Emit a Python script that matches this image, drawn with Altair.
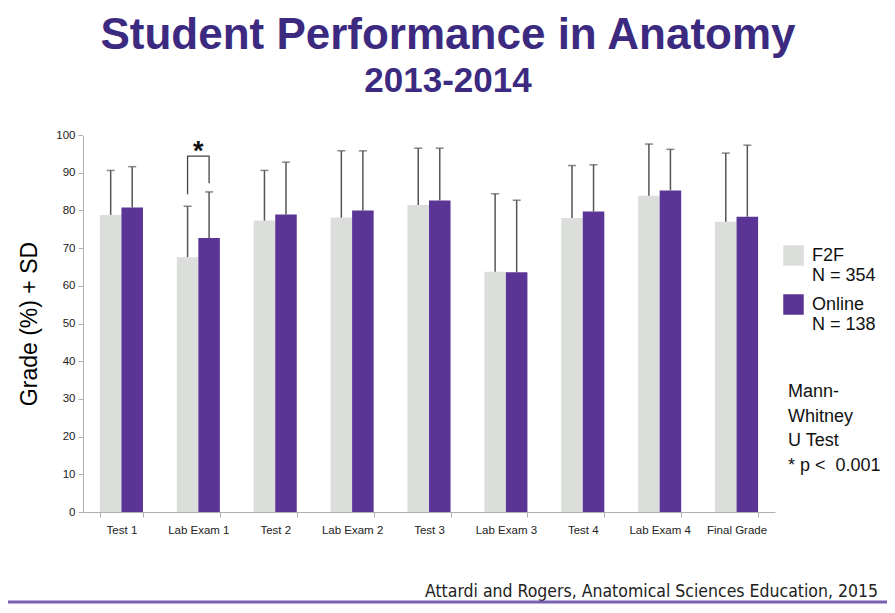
import altair as alt
import pandas as pd

categories = ["Test 1", "Lab Exam 1", "Test 2", "Lab Exam 2", "Test 3",
              "Lab Exam 3", "Test 4", "Lab Exam 4", "Final Grade"]
groups = ["F2F", "Online"]
group_n = [354, 138]
f2f_mean = [78.8, 67.6, 77.3, 78.1, 81.4, 63.7, 78.0, 83.9, 77.0]
f2f_upper = [90.6, 81.1, 90.6, 95.8, 96.5, 84.4, 91.9, 97.6, 95.2]
online_mean = [80.8, 72.7, 78.9, 80.0, 82.6, 63.6, 79.7, 85.3, 78.3]
online_upper = [91.6, 84.9, 92.8, 95.8, 96.5, 82.7, 92.1, 96.2, 97.3]
y_ticks = list(range(0, 101, 10))
y_max = 100

bracket_category = "Lab Exam 1"
bracket_groups = ["F2F", "F2F", "Online", "Online"]
bracket_y = [84.3, 94.4, 94.4, 87.2]
star_y = 95.6

note_lines = ["Mann-", "Whitney", "U Test", "* p <\u00a0 0.001"]
citation = "Attardi and Rogers, Anatomical Sciences Education, 2015"

rows = []
for i, c in enumerate(categories):
    rows.append({"category": c, "group": "F2F", "mean": f2f_mean[i], "upper": f2f_upper[i]})
    rows.append({"category": c, "group": "Online", "mean": online_mean[i], "upper": online_upper[i]})
df = pd.DataFrame(rows)

bracket_df = pd.DataFrame({
    "category": [bracket_category] * len(bracket_groups),
    "group": bracket_groups,
    "y": bracket_y,
    "seq": list(range(len(bracket_groups))),
})
star_df = pd.DataFrame({"category": [bracket_category], "y": [star_y], "t": ["*"]})
top_df = pd.DataFrame({"v": [y_max]})

FONT = "Liberation Sans"
PURPLE = "#5b3596"
GRAY = "#dcdedb"
AXIS_C = "#b0b0b0"
W, H = 692, 377

x_enc = alt.X("category:N", sort=categories,
              scale=alt.Scale(paddingInner=0.44, paddingOuter=0.22),
              axis=alt.Axis(title=None, labelAngle=0, tickBand="extent",
                            labelFontSize=11.5, labelColor="#222", labelFont=FONT,
                            domainColor=AXIS_C, tickColor=AXIS_C, tickSize=5,
                            labelPadding=7, grid=False))
xoff = alt.XOffset("group:N", sort=groups, scale=alt.Scale(paddingInner=0, paddingOuter=0))
y_scale = alt.Scale(domain=[0, y_max])
y_axis = alt.Axis(values=y_ticks, title="Grade (%) + SD",
                  titleFontSize=23, titleFontWeight="normal", titleColor="#000",
                  titleFont=FONT, titlePadding=14,
                  labelFontSize=11.5, labelColor="#222", labelFont=FONT,
                  domainColor=AXIS_C, tickColor=AXIS_C, tickSize=5,
                  labelPadding=3, grid=False)

label_expr = " : ".join(
    [f"datum.label == '{g}' ? ['{g}', 'N = {n}']" for g, n in zip(groups[:-1], group_n[:-1])]
    + [f"['{groups[-1]}', 'N = {group_n[-1]}']"]
)

bars = alt.Chart(df).mark_bar().encode(
    x=x_enc,
    xOffset=xoff,
    y=alt.Y("mean:Q", scale=y_scale, axis=y_axis),
    color=alt.Color("group:N", sort=groups,
                    scale=alt.Scale(domain=groups, range=[GRAY, PURPLE]),
                    legend=alt.Legend(title=None, orient="none", legendX=700, legendY=101,
                                      symbolType="M-1,-0.12H1V1.88H-1Z", symbolSize=420,
                                      symbolStrokeWidth=0, labelFontSize=18,
                                      labelFont=FONT, labelColor="#111",
                                      labelBaseline="top", labelOffset=8,
                                      labelLimit=200, rowPadding=-2,
                                      labelExpr=label_expr)),
)

err = alt.Chart(df).mark_rule(color="#555", strokeWidth=1.5).encode(
    x=x_enc, xOffset=xoff, y=alt.Y("mean:Q", scale=y_scale, axis=y_axis), y2="upper:Q")
caps = alt.Chart(df).mark_tick(color="#555", thickness=1.5, size=8, orient="horizontal").encode(
    x=x_enc, xOffset=xoff, y=alt.Y("upper:Q", scale=y_scale, axis=y_axis))

bracket = alt.Chart(bracket_df).mark_line(color="#444", strokeWidth=1.3).encode(
    x=x_enc, xOffset=xoff, y=alt.Y("y:Q", scale=y_scale, axis=y_axis), order="seq:Q")
star = alt.Chart(star_df).mark_text(fontSize=27, font=FONT, fontWeight="bold",
                                    baseline="middle", color="#111").encode(
    x=x_enc, y=alt.Y("y:Q", scale=y_scale, axis=y_axis), text="t:N")

# white cover for the frame edges at the top and right of the plot area
cover_top = alt.Chart(top_df).mark_rule(color="white", strokeWidth=2.5).encode(
    y=alt.Y("v:Q", scale=y_scale, axis=y_axis))
cover_right = alt.Chart(pd.DataFrame({"a": [0]})).mark_rule(color="white", strokeWidth=2.5).encode(
    x=alt.value(W), y=alt.value(-2), y2=alt.value(H - 1))

notes = alt.Chart(pd.DataFrame({"a": [0]})).mark_text(
    text=note_lines, align="left", baseline="top", fontSize=18, lineHeight=24.5,
    font=FONT, color="#111").encode(x=alt.value(705), y=alt.value(248))

cite = alt.Chart(pd.DataFrame({"a": [0]})).mark_text(
    text=citation, align="right", baseline="middle", fontSize=17.5,
    font="DejaVu Sans Condensed, Open Sans", color="#222").encode(x=alt.value(795), y=alt.value(457))

bottom_line = alt.Chart(pd.DataFrame({"a": [0]})).mark_rule(
    color="#7a5fb0", strokeWidth=3).encode(x=alt.value(-75), x2=alt.value(804), y=alt.value(467))

chart = alt.layer(cover_top, cover_right, bars, err, caps, bracket, star,
                  notes, cite, bottom_line).properties(
    width=W, height=H,
    background="white",
    view=alt.ViewBackground(stroke="transparent", strokeWidth=0),
    autosize=alt.AutoSizeParams(type="none"),
    padding={"left": 75, "top": 127, "right": 112, "bottom": 93},
    title=alt.TitleParams("Student Performance in Anatomy", subtitle="2013-2014",
                          fontSize=44, font=FONT, fontWeight="bold", color="#3b2a80",
                          subtitleFontSize=35, subtitleFont=FONT, subtitleFontWeight="bold",
                          subtitleColor="#3b2a80", subtitlePadding=6,
                          anchor="middle", dx=19, offset=30),
).configure(
    view=alt.ViewConfig(stroke="transparent", strokeWidth=0),
    style={"cell": {"stroke": "transparent", "strokeWidth": 0}},
)

chart.save("out.html", embed_options={"renderer": "svg", "actions": False})
